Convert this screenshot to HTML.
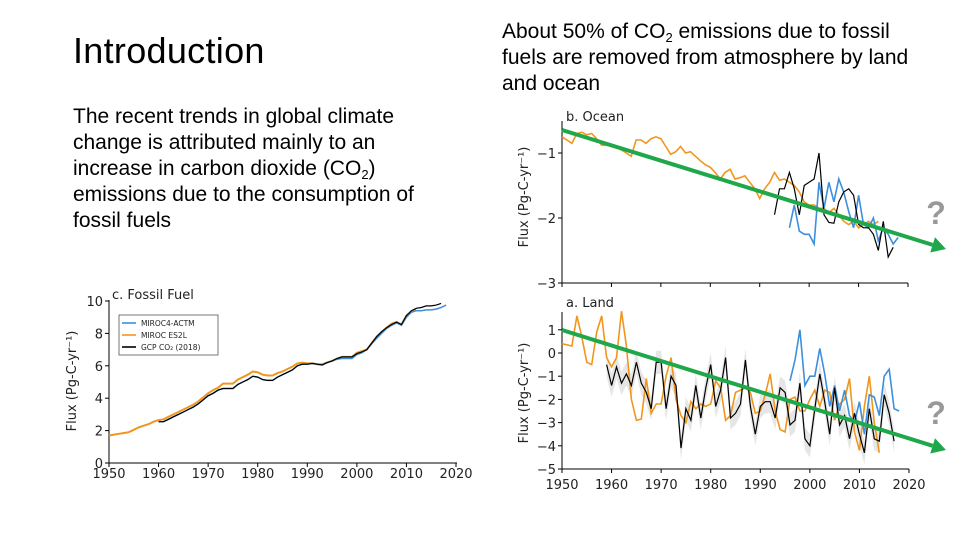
<!DOCTYPE html>
<html><head><meta charset="utf-8"><style>
body{margin:0;width:960px;height:540px;background:#fff;position:relative;overflow:hidden;font-family:"Liberation Sans",sans-serif;}
.t{position:absolute;color:#000;white-space:nowrap;}
.t sub{font-size:13px;vertical-align:-4px;line-height:0;}
svg{position:absolute;left:0;top:0;}
</style></head><body>
<div class="t" style="left:73px;top:30px;font-size:36px;letter-spacing:0.3px;">Introduction</div>
<div class="t" style="left:73px;top:104px;font-size:21px;line-height:26px;">The recent trends in global climate<br>change is attributed mainly to an<br>increase in carbon dioxide (CO<sub>2</sub>)<br>emissions due to the consumption of<br>fossil fuels</div>
<div class="t" style="left:502px;top:19px;font-size:21px;line-height:26px;">About 50% of CO<sub>2</sub> emissions due to fossil<br>fuels are removed from atmosphere by land<br>and ocean</div>
<svg id="s" width="960" height="540"></svg>
<script>
// Fossil fuel panel data
const ffOrange=[1.7,1.75,1.8,1.85,1.9,2.05,2.2,2.3,2.4,2.55,2.65,2.7,2.85,3.0,3.15,3.3,3.45,3.6,3.8,4.05,4.3,4.5,4.65,4.9,4.9,4.9,5.15,5.3,5.45,5.65,5.6,5.45,5.4,5.4,5.55,5.65,5.8,5.95,6.15,6.2,6.15,6.15,6.1,6.1,6.2,6.3,6.45,6.55,6.55,6.55,6.8,6.9,7.0,7.4,7.8,8.1,8.35,8.6,8.7,8.55,9.1,9.35,9.45];
const ffOrangeStart=1950;
const ffBlack=[2.55,2.55,2.7,2.85,3.0,3.15,3.3,3.45,3.65,3.9,4.15,4.3,4.5,4.6,4.6,4.6,4.85,5.0,5.15,5.35,5.3,5.15,5.1,5.1,5.3,5.45,5.6,5.75,6.0,6.1,6.1,6.15,6.1,6.05,6.2,6.3,6.45,6.55,6.55,6.55,6.75,6.85,7.0,7.4,7.8,8.1,8.35,8.55,8.7,8.55,9.1,9.4,9.55,9.6,9.7,9.7,9.75,9.85];
const ffBlackStart=1960;
const ffBlue=[2.55,2.55,2.7,2.85,3.0,3.15,3.3,3.45,3.65,3.9,4.15,4.3,4.5,4.6,4.6,4.6,4.85,5.0,5.15,5.35,5.3,5.15,5.1,5.1,5.3,5.45,5.6,5.75,6.0,6.1,6.1,6.15,6.1,6.05,6.2,6.3,6.4,6.45,6.45,6.45,6.7,6.8,7.0,7.35,7.7,8.0,8.3,8.5,8.65,8.5,9.0,9.3,9.4,9.4,9.45,9.45,9.5,9.6,9.75];
const ffBlueStart=1960;
const ffYTicks=[0,2,4,6,8,10];
const xTicks=[1950,1960,1970,1980,1990,2000,2010,2020];
// Ocean panel data
const ocOrange=[-0.75,-0.8,-0.85,-0.7,-0.68,-0.72,-0.7,-0.78,-0.88,-0.88,-0.9,-0.92,-0.95,-1.0,-1.05,-0.8,-0.8,-0.85,-0.78,-0.75,-0.78,-0.9,-1.02,-0.98,-0.9,-1.0,-0.98,-1.05,-1.12,-1.18,-1.22,-1.3,-1.4,-1.3,-1.25,-1.4,-1.38,-1.35,-1.45,-1.55,-1.7,-1.55,-1.45,-1.3,-1.42,-1.4,-1.45,-1.5,-1.6,-1.75,-1.8,-1.8,-1.85,-1.85,-1.92,-1.85,-1.95,-2.05,-2.1,-2.05,-2.15,-2.1,-2.05,-2.1,-2.05];
const ocOrangeStart=1950;
const ocBlack=[-1.95,-1.55,-1.55,-1.3,-1.55,-1.95,-1.5,-1.45,-1.4,-1.0,-1.95,-2.07,-2.08,-1.75,-1.6,-1.55,-1.65,-2.1,-2.15,-2.15,-2.25,-2.5,-2.05,-2.6,-2.45];
const ocBlackStart=1993;
const ocBlue=[-2.15,-1.8,-2.2,-2.25,-2.25,-2.4,-1.45,-1.85,-1.45,-1.75,-1.4,-1.6,-1.9,-2.15,-1.65,-2.1,-2.15,-2.0,-2.35,-2.15,-2.25,-2.4,-2.3];
const ocBlueStart=1996;
const ocYTicks=[-1,-2,-3];
// Land panel data
const laOrange=[0.4,0.35,0.3,1.6,0.7,-0.4,-0.5,0.9,1.6,-0.2,-0.6,-0.2,1.8,0.3,-2.0,-2.9,-2.85,-1.1,-2.6,-2.2,-2.2,-1.0,-0.2,-2.0,-2.7,-3.0,-2.1,-2.4,-2.2,-2.3,-2.2,-1.2,-1.5,-2.9,-2.7,-1.7,-1.6,-1.5,-1.7,-2.6,-2.5,-1.8,-0.9,-2.5,-3.3,-3.4,-2.0,-1.9,-2.5,-2.5,-2.0,-1.6,-2.3,-1.6,-1.7,-2.9,-2.2,-2.0,-1.1,-3.4,-4.2,-2.3,-1.0,-3.0,-4.3];
const laOrangeStart=1950;
const laBlack=[-0.5,-1.4,-0.6,-1.3,-0.9,-1.4,-0.4,-1.3,-1.7,-2.4,-0.4,-0.4,-2.4,-1.0,-1.4,-4.1,-2.4,-2.9,-1.4,-2.8,-1.5,-0.5,-2.3,-1.6,-0.2,-2.8,-2.6,-2.2,-0.3,-2.3,-3.5,-2.3,-2.1,-2.1,-2.8,-1.5,-1.7,-3.1,-2.9,-1.3,-3.7,-4.0,-2.4,-0.9,-2.1,-3.5,-1.5,-3.1,-2.7,-3.7,-2.6,-3.5,-4.3,-2.4,-3.7,-3.8,-1.8,-2.6,-3.8];
const laBlackStart=1959;
const laBlue=[-1.2,-0.3,1.0,-1.4,-1.0,-1.0,0.2,-0.9,-2.3,-1.4,-2.5,-1.6,-2.7,-3.0,-2.1,-3.5,-1.8,-1.9,-2.7,-1.0,-0.7,-2.4,-2.5];
const laBlueStart=1996;
const laYTicks=[1,0,-1,-2,-3,-4,-5];
const bandHalf=0.5;

const NS="http://www.w3.org/2000/svg";
const svg=document.getElementById('s');
function mk(tag,attrs,parent){const e=document.createElementNS(NS,tag);for(const k in attrs)e.setAttribute(k,attrs[k]);(parent||svg).appendChild(e);return e;}
function txt(x,y,s,size,anchor,parent){const t=mk('text',{x:x,y:y,'font-size':size,'text-anchor':anchor||'middle','font-family':'DejaVu Sans, sans-serif',fill:'#222'},parent);t.textContent=s;return t;}
function path(vals,start,X,Y){return vals.map((v,i)=>(i?'L':'M')+X(start+i).toFixed(1)+','+Y(v).toFixed(1)).join('');}

// ---- Fossil fuel chart
const ff=mk('g',{});


const fX=y=>109+(y-1950)*(347/70), fY=v=>463-v*16.2;
mk('line',{x1:109,y1:300,x2:109,y2:463,stroke:'#000','stroke-width':1},ff);
mk('line',{x1:109,y1:463,x2:457,y2:463,stroke:'#000','stroke-width':1},ff);
ffYTicks.forEach(v=>{mk('line',{x1:105,x2:109,y1:fY(v),y2:fY(v),stroke:'#000'},ff);const t=txt(103,fY(v)+5,String(v),13,'end',ff);});
xTicks.forEach(v=>{mk('line',{x1:fX(v),x2:fX(v),y1:463,y2:467,stroke:'#000'},ff);const t=txt(fX(v),478,String(v),13,'middle',ff);});
const fyt=txt(0,0,'Flux (Pg-C-yr⁻¹)',13,'middle',ff);fyt.setAttribute('transform','translate(76,381) rotate(-90)');

const fft=txt(112,299,'c. Fossil Fuel',13,'start',ff);
let p;
p=mk('path',{d:path(ffOrange,ffOrangeStart,fX,fY),fill:'none',stroke:'#f0961e','stroke-width':2},ff);
p=mk('path',{d:path(ffBlue,ffBlueStart,fX,fY),fill:'none',stroke:'#3d8fde','stroke-width':1.5},ff);
p=mk('path',{d:path(ffBlack,ffBlackStart,fX,fY),fill:'none',stroke:'#000','stroke-width':1.2},ff);
const lg=mk('g',{},ff);
mk('rect',{x:119,y:315,width:99,height:40,fill:'#fff',stroke:'#555','stroke-width':0.8},lg);
[['MIROC4-ACTM','#3d8fde'],['MIROC ES2L','#f0961e'],['GCP CO₂ (2018)','#000']].forEach((e,i)=>{const y=323+i*12;mk('line',{x1:122,x2:136,y1:y,y2:y,stroke:e[1],'stroke-width':1.6},lg);const t=txt(141,y+3,e[0],7.5,'start',lg);});

// ---- Ocean chart
const oc=mk('g',{});


const oX=y=>562+(y-1950)*(346/70), oY=v=>153-(v+1)*65;
mk('line',{x1:562,y1:121,x2:562,y2:283,stroke:'#000'},oc);
mk('line',{x1:562,y1:283,x2:908,y2:283,stroke:'#000'},oc);
ocYTicks.forEach(v=>{mk('line',{x1:558,x2:562,y1:oY(v),y2:oY(v),stroke:'#000'},oc);const t=txt(556,oY(v)+5,'−'+Math.abs(v),13,'end',oc);});
xTicks.forEach(v=>{mk('line',{x1:oX(v),x2:oX(v),y1:283,y2:287,stroke:'#000'},oc);});
const oyt=txt(0,0,'Flux (Pg-C-yr⁻¹)',13,'middle',oc);oyt.setAttribute('transform','translate(528,197) rotate(-90)');

const oct=txt(566,121,'b. Ocean',13,'start',oc);
p=mk('path',{d:path(ocOrange,ocOrangeStart,oX,oY),fill:'none',stroke:'#f0961e','stroke-width':1.6},oc);
p=mk('path',{d:path(ocBlue,ocBlueStart,oX,oY),fill:'none',stroke:'#3d8fde','stroke-width':1.6},oc);
p=mk('path',{d:path(ocBlack,ocBlackStart,oX,oY),fill:'none',stroke:'#000','stroke-width':1.2},oc);

// ---- Land chart
const la=mk('g',{});


const lX=y=>562+(y-1950)*(347/70), lY=v=>353-v*23.2;
function X0(i,v){return lX(laBlackStart+i).toFixed(1)+','+lY(v).toFixed(1);}
const up=laBlack.map((v,i)=>X0(i,v+bandHalf)), dn=laBlack.map((v,i)=>X0(i,v-bandHalf)).reverse();
p=mk('polygon',{points:up.concat(dn).join(' '),fill:'#e6e6e6'},la);
mk('line',{x1:562,y1:312,x2:562,y2:469,stroke:'#000'},la);
mk('line',{x1:562,y1:469,x2:909,y2:469,stroke:'#000'},la);
laYTicks.forEach(v=>{mk('line',{x1:558,x2:562,y1:lY(v),y2:lY(v),stroke:'#000'},la);const t=txt(556,lY(v)+5,(v<0?'−':'')+Math.abs(v),13,'end',la);});
xTicks.forEach(v=>{mk('line',{x1:lX(v),x2:lX(v),y1:469,y2:473,stroke:'#000'},la);const t=txt(lX(v),489,String(v),13,'middle',la);});
const lyt=txt(0,0,'Flux (Pg-C-yr⁻¹)',13,'middle',la);lyt.setAttribute('transform','translate(528,393) rotate(-90)');

const lat=txt(566,307,'a. Land',13,'start',la);
p=mk('path',{d:path(laOrange,laOrangeStart,lX,lY),fill:'none',stroke:'#f0961e','stroke-width':1.6},la);
p=mk('path',{d:path(laBlue,laBlueStart,lX,lY),fill:'none',stroke:'#3d8fde','stroke-width':1.6},la);
p=mk('path',{d:path(laBlack,laBlackStart,lX,lY),fill:'none',stroke:'#000','stroke-width':1.2},la);

// ---- Trend arrows and question marks
function arrow(x1,y1,x2,y2,name){const g=mk('g',{});
const a=Math.atan2(y2-y1,x2-x1),L=14,W=8;const bx=x2-L*Math.cos(a),by=y2-L*Math.sin(a);
mk('line',{x1:x1,y1:y1,x2:bx,y2:by,stroke:'#1fa84a','stroke-width':4},g);
mk('polygon',{points:`${x2},${y2} ${bx+W*Math.sin(a)},${by-W*Math.cos(a)} ${bx-W*Math.sin(a)},${by+W*Math.cos(a)}`,fill:'#1fa84a'},g);}
arrow(562,130,946,249,'ocean-trend-arrow');
arrow(562,330,946,450,'land-trend-arrow');
[[936,224],[936,424]].forEach(q=>{const t=mk('text',{x:q[0],y:q[1],'font-size':32,'font-weight':'bold','text-anchor':'middle','font-family':'Liberation Sans, sans-serif',fill:'#999'});t.textContent='?';});
</script>
</body></html>
